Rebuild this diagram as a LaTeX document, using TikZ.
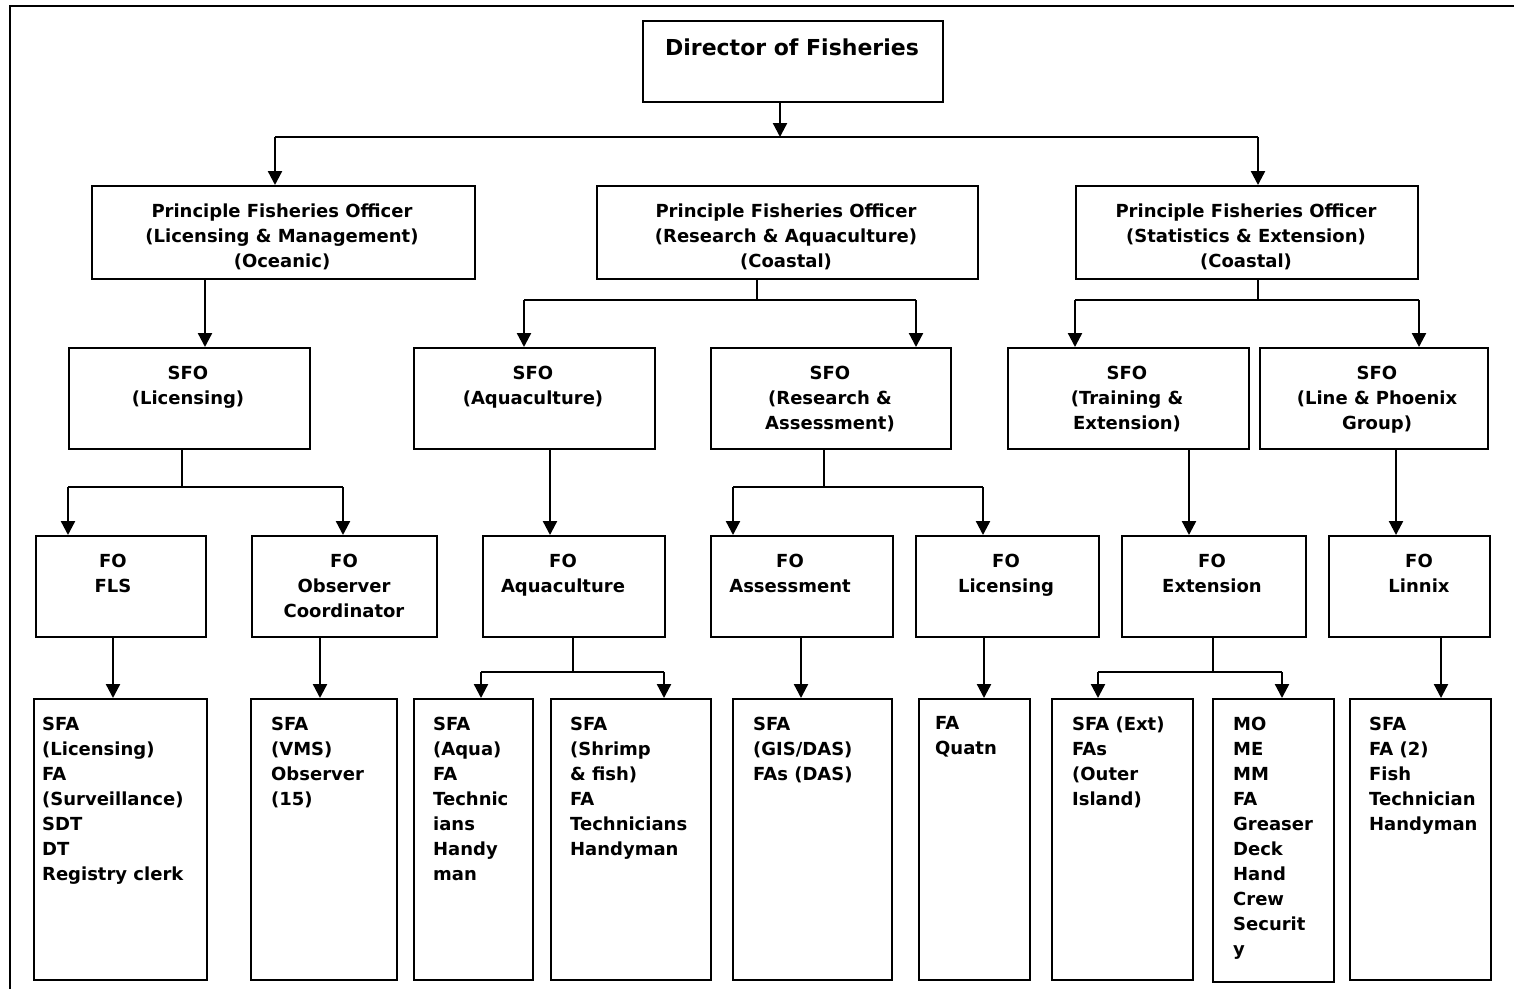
\documentclass[tikz,border=0pt]{standalone}
\usepackage{fontspec}
\setmainfont{DejaVu Sans}
\usetikzlibrary{arrows.meta}
\begin{document}
\begin{tikzpicture}[x=1pt,y=-1pt,
  line width=2.3pt,
  box/.style={draw=black, line width=2.3pt, inner sep=0pt, anchor=north west},
  txt/.style={inner sep=0pt, align=center, anchor=north,
    font=\fontsize{18}{25}\selectfont\bfseries,
    execute at begin node={\strut}},
  ltxt/.style={txt, align=left, anchor=north west},
  conn/.style={draw=black, line width=2.3pt},
  arr/.style={conn, -{Triangle[width=14pt,length=14pt]}}]
\useasboundingbox (0,0) rectangle (1514,989);

% outer frame (top and left edges)
\coordinate (frameBL) at (10,989);
\coordinate (frameTL) at (10,6);
\coordinate (frameTR) at (1514,6);
\draw[line width=2.8pt] (frameBL) -- (frameTL) -- (frameTR);

% ---------- boxes ----------
\node[box, minimum width=300pt, minimum height=81pt] (dir) at (642,20) {};
\node[inner sep=0pt, anchor=base, font=\fontsize{22}{26}\selectfont\bfseries] (dirT) at (792,55) {Director of Fisheries};

\node[box, minimum width=383pt, minimum height=93pt] (pfo1) at (91,185) {};
\node[box, minimum width=381pt, minimum height=93pt] (pfo2) at (596,185) {};
\node[box, minimum width=342pt, minimum height=93pt] (pfo3) at (1075,185) {};
\node[txt] (pfo1T) at (282,202.5) {Principle Fisheries Officer\\(Licensing \& Management)\\(Oceanic)};
\node[txt] (pfo2T) at (786,202.5) {Principle Fisheries Officer\\(Research \& Aquaculture)\\(Coastal)};
\node[txt] (pfo3T) at (1246,202.5) {Principle Fisheries Officer\\(Statistics \& Extension)\\(Coastal)};

\node[box, minimum width=241pt, minimum height=101pt] (sfo1) at (68,347) {};
\node[box, minimum width=241pt, minimum height=101pt] (sfo2) at (413,347) {};
\node[box, minimum width=240pt, minimum height=101pt] (sfo3) at (710,347) {};
\node[box, minimum width=241pt, minimum height=101pt] (sfo4) at (1007,347) {};
\node[box, minimum width=228pt, minimum height=101pt] (sfo5) at (1259,347) {};
\node[txt] (sfo1T) at (188,364.5) {SFO\\(Licensing)};
\node[txt] (sfo2T) at (533,364.5) {SFO\\(Aquaculture)};
\node[txt] (sfo3T) at (830,364.5) {SFO\\(Research \&\\Assessment)};
\node[txt] (sfo4T) at (1127,364.5) {SFO\\(Training \&\\Extension)};
\node[txt] (sfo5T) at (1377,364.5) {SFO\\(Line \& Phoenix\\Group)};

\node[box, minimum width=170pt, minimum height=101pt] (fo1) at (35,535) {};
\node[box, minimum width=185pt, minimum height=101pt] (fo2) at (251,535) {};
\node[box, minimum width=182pt, minimum height=101pt] (fo3) at (482,535) {};
\node[box, minimum width=182pt, minimum height=101pt] (fo4) at (710,535) {};
\node[box, minimum width=183pt, minimum height=101pt] (fo5) at (915,535) {};
\node[box, minimum width=184pt, minimum height=101pt] (fo6) at (1121,535) {};
\node[box, minimum width=161pt, minimum height=101pt] (fo7) at (1328,535) {};
\node[txt] (fo1T) at (113,552.5) {FO\\FLS};
\node[txt] (fo2T) at (344,552.5) {FO\\Observer\\Coordinator};
\node[txt] (fo3T) at (563,552.5) {FO\\Aquaculture};
\node[txt] (fo4T) at (790,552.5) {FO\\Assessment};
\node[txt] (fo5T) at (1006,552.5) {FO\\Licensing};
\node[txt] (fo6T) at (1212,552.5) {FO\\Extension};
\node[txt] (fo7T) at (1419,552.5) {FO\\Linnix};

\node[box, minimum width=173pt, minimum height=281pt] (b1) at (33,698) {};
\node[box, minimum width=146pt, minimum height=281pt] (b2) at (250,698) {};
\node[box, minimum width=119pt, minimum height=281pt] (b3) at (413,698) {};
\node[box, minimum width=160pt, minimum height=281pt] (b4) at (550,698) {};
\node[box, minimum width=159pt, minimum height=281pt] (b5) at (732,698) {};
\node[box, minimum width=111pt, minimum height=281pt] (b6) at (918,698) {};
\node[box, minimum width=141pt, minimum height=281pt] (b7) at (1051,698) {};
\node[box, minimum width=121pt, minimum height=283pt] (b8) at (1212,698) {};
\node[box, minimum width=141pt, minimum height=281pt] (b9) at (1349,698) {};
\node[ltxt] (b1T) at (41,715.5) {SFA\\(Licensing)\\FA\\(Surveillance)\\SDT\\DT\\Registry clerk};
\node[ltxt] (b2T) at (270,715.5) {SFA\\(VMS)\\Observer\\(15)};
\node[ltxt] (b3T) at (432,715.5) {SFA\\(Aqua)\\FA\\Technic\\ians\\Handy\\man};
\node[ltxt] (b4T) at (569,715.5) {SFA\\(Shrimp\\\& fish)\\FA\\Technicians\\Handyman};
\node[ltxt] (b5T) at (752,715.5) {SFA\\(GIS/DAS)\\FAs (DAS)};
\node[ltxt] (b6T) at (934,715.5) {FA\\Quatn};
\node[ltxt] (b7T) at (1071,715.5) {SFA (Ext)\\FAs\\(Outer\\Island)};
\node[ltxt] (b8T) at (1232,715.5) {MO\\ME\\MM\\FA\\Greaser\\Deck\\Hand\\Crew\\Securit\\y};
\node[ltxt] (b9T) at (1368,715.5) {SFA\\FA (2)\\Fish\\Technician\\Handyman};

% ---------- connectors ----------
% Director to the three principal officers
\coordinate (t0) at (780,137);
\coordinate (tL) at (275,137);
\coordinate (tR) at (1258,137);
\draw[arr] (t0 |- dir.south) -- (t0);
\draw[conn] (tL) -- (tR);
\draw[arr] (tL) -- (tL |- pfo1.north);
\draw[arr] (tR) -- (tR |- pfo3.north);

% principal officers to senior officers
\coordinate (p1) at (205,300);
\draw[arr] (p1 |- pfo1.south) -- (p1 |- sfo1.north);
\coordinate (p2) at (757,300);
\coordinate (p2L) at (524,300);
\coordinate (p2R) at (916,300);
\draw[conn] (p2 |- pfo2.south) -- (p2);
\draw[conn] (p2L) -- (p2R);
\draw[arr] (p2L) -- (p2L |- sfo2.north);
\draw[arr] (p2R) -- (p2R |- sfo3.north);
\coordinate (p3) at (1258,300);
\coordinate (p3L) at (1075,300);
\coordinate (p3R) at (1419,300);
\draw[conn] (p3 |- pfo3.south) -- (p3);
\draw[conn] (p3L) -- (p3R);
\draw[arr] (p3L) -- (p3L |- sfo4.north);
\draw[arr] (p3R) -- (p3R |- sfo5.north);

% senior officers to officers
\coordinate (s1) at (182,487);
\coordinate (s1L) at (68,487);
\coordinate (s1R) at (343,487);
\draw[conn] (s1 |- sfo1.south) -- (s1);
\draw[conn] (s1L) -- (s1R);
\draw[arr] (s1L) -- (s1L |- fo1.north);
\draw[arr] (s1R) -- (s1R |- fo2.north);
\coordinate (s2) at (550,487);
\draw[arr] (s2 |- sfo2.south) -- (s2 |- fo3.north);
\coordinate (s3) at (824,487);
\coordinate (s3L) at (733,487);
\coordinate (s3R) at (983,487);
\draw[conn] (s3 |- sfo3.south) -- (s3);
\draw[conn] (s3L) -- (s3R);
\draw[arr] (s3L) -- (s3L |- fo4.north);
\draw[arr] (s3R) -- (s3R |- fo5.north);
\coordinate (s4) at (1189,487);
\draw[arr] (s4 |- sfo4.south) -- (s4 |- fo6.north);
\coordinate (s5) at (1396,487);
\draw[arr] (s5 |- sfo5.south) -- (s5 |- fo7.north);

% officers to staff
\coordinate (f1) at (113,672);
\draw[arr] (f1 |- fo1.south) -- (f1 |- b1.north);
\coordinate (f2) at (320,672);
\draw[arr] (f2 |- fo2.south) -- (f2 |- b2.north);
\coordinate (f3) at (573,672);
\coordinate (f3L) at (481,672);
\coordinate (f3R) at (664,672);
\draw[conn] (f3 |- fo3.south) -- (f3);
\draw[conn] (f3L) -- (f3R);
\draw[arr] (f3L) -- (f3L |- b3.north);
\draw[arr] (f3R) -- (f3R |- b4.north);
\coordinate (f4) at (801,672);
\draw[arr] (f4 |- fo4.south) -- (f4 |- b5.north);
\coordinate (f5) at (984,672);
\draw[arr] (f5 |- fo5.south) -- (f5 |- b6.north);
\coordinate (f6) at (1213,672);
\coordinate (f6L) at (1098,672);
\coordinate (f6R) at (1282,672);
\draw[conn] (f6 |- fo6.south) -- (f6);
\draw[conn] (f6L) -- (f6R);
\draw[arr] (f6L) -- (f6L |- b7.north);
\draw[arr] (f6R) -- (f6R |- b8.north);
\coordinate (f7) at (1441,672);
\draw[arr] (f7 |- fo7.south) -- (f7 |- b9.north);
\end{tikzpicture}
\end{document}
